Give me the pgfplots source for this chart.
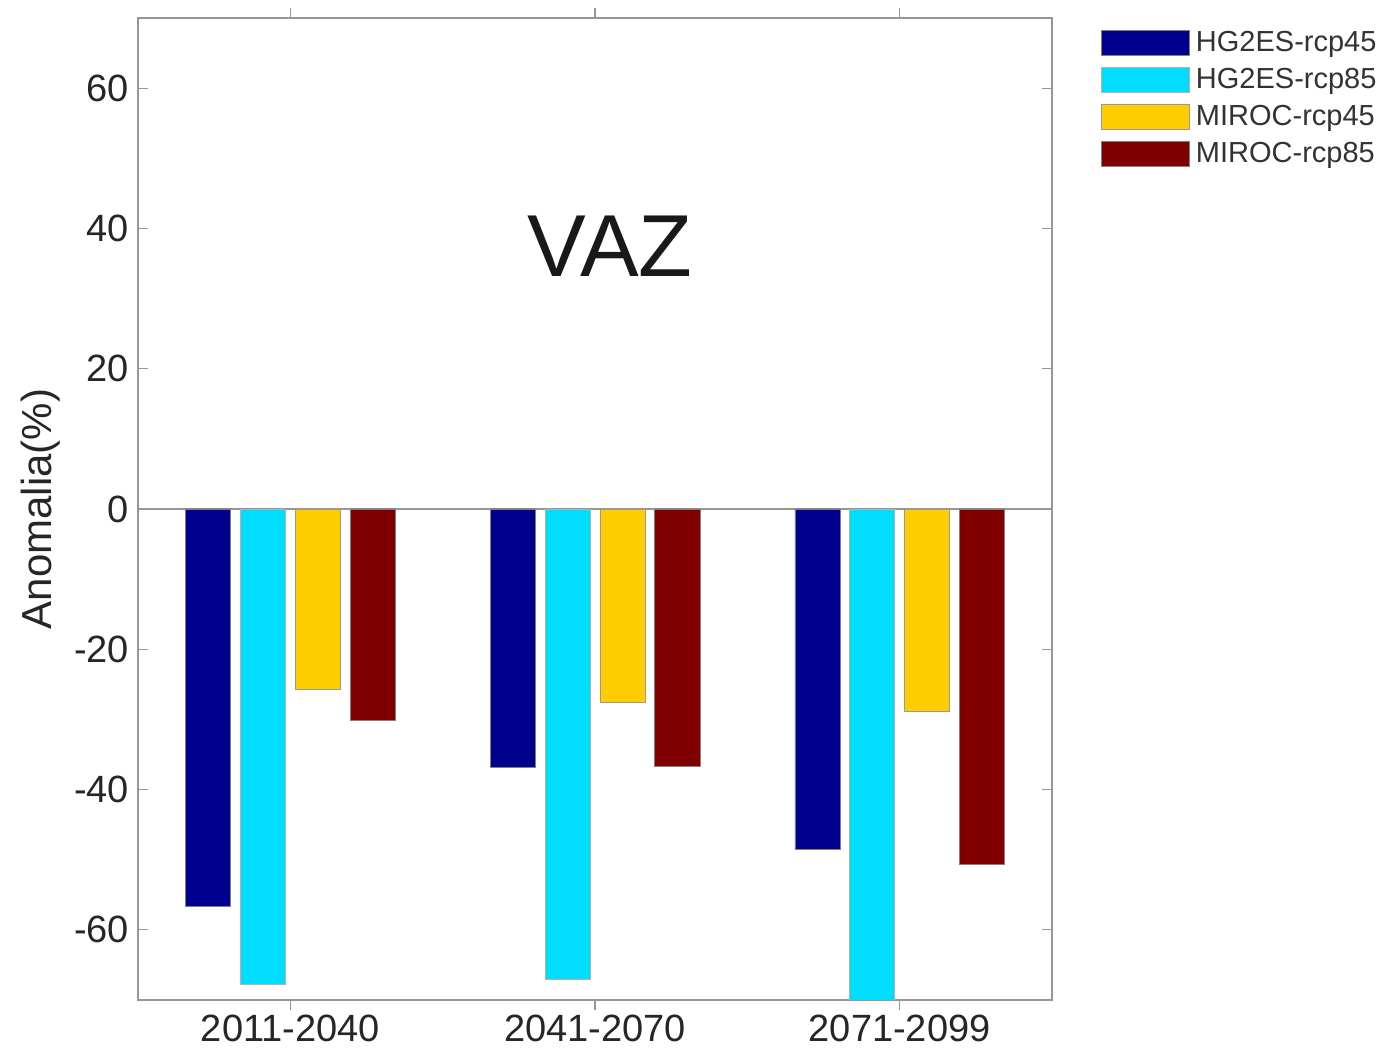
\documentclass[border=0pt]{standalone}
\usepackage{fontspec}
\setmainfont{Liberation Sans}
\usepackage{pgfplots}
\pgfplotsset{compat=1.18}
\definecolor{cA}{RGB}{0,0,143}
\definecolor{cB}{RGB}{0,221,255}
\definecolor{cC}{RGB}{255,205,0}
\definecolor{cD}{RGB}{128,0,0}
\definecolor{axgray}{RGB}{150,150,150}
\begin{document}
\begin{tikzpicture}
\path[use as bounding box] (-69pt,-26.5pt) rectangle (625pt,500pt);
\begin{axis}[
  at={(0,0)}, anchor=south west,
  scale only axis, width=457pt, height=491pt,
  xmin=0.5, xmax=3.5, ymin=-70, ymax=70,
  xtick={1,2,3}, xticklabels={2011-2040,2041-2070,2071-2099},
  ytick={-60,-40,-20,0,20,40,60},
  tick align=inside, major tick length=5pt,
  tick style={axgray, line width=0.6pt},
  axis line style={axgray, line width=1pt},
  ticklabel style={font=\fontsize{19}{19}\selectfont, text=black!85},
  /pgf/number format/assume math mode=true,
  xticklabel style={yshift=1pt},
  yticklabel style={xshift=-1pt},
  ylabel={Anomalia(\%)},
  ylabel style={font=\fontsize{21}{21}\selectfont, text=black!85, at={(axis description cs:-0.107,0.5)}, anchor=center},
  ybar, bar width=0.148,
  legend style={at={(axis description cs:1.047,0.993)}, anchor=north west, draw=none, fill=none,
    font=\fontsize{14.5}{14.5}\selectfont, text=black!80, row sep=4.8pt,
    nodes={inner xsep=3pt, inner ysep=1pt}},
  legend cell align=left,
  legend image code/.code={\draw[#1] (0pt,-6.25pt) rectangle (44pt,6.25pt);},
  clip=true,
]
\draw[axgray, line width=0.8pt] (axis cs:0.5,0) -- (axis cs:3.5,0);
\addplot[bar shift=-0.27, fill=cA, draw=black!50, line width=0.3pt] coordinates {(1,-56.7) (2,-36.8) (3,-48.5)};
\addlegendentry{HG2ES-rcp45}
\addplot[bar shift=-0.09, fill=cB, draw=black!30, line width=0.3pt] coordinates {(1,-67.8) (2,-67.1) (3,-74)};
\addlegendentry{HG2ES-rcp85}
\addplot[bar shift=0.09, fill=cC, draw=black!40, line width=0.3pt] coordinates {(1,-25.7) (2,-27.6) (3,-28.9)};
\addlegendentry{MIROC-rcp45}
\addplot[bar shift=0.27, fill=cD, draw=black!50, line width=0.3pt] coordinates {(1,-30.1) (2,-36.7) (3,-50.7)};
\addlegendentry{MIROC-rcp85}
\node[font=\fontsize{44}{44}\selectfont, text=black!90] at (axis cs:2.05,37.4) {VAZ};
\end{axis}
\end{tikzpicture}
\end{document}
